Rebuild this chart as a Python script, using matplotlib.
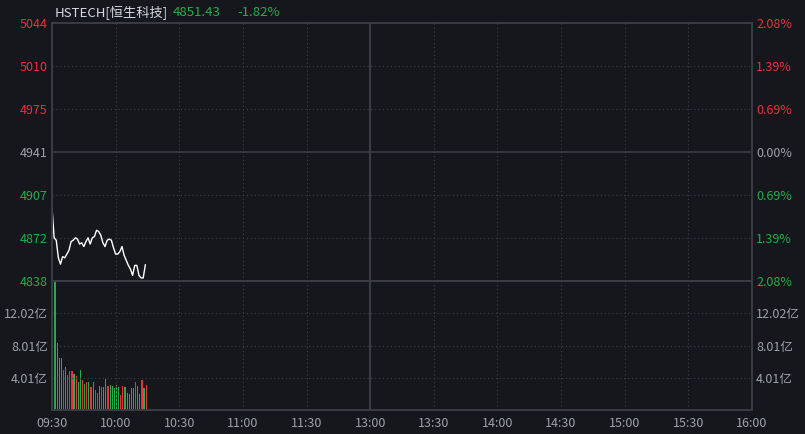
import matplotlib.pyplot as plt
import numpy as np

plt.rcParams['font.family'] = ['Noto Sans CJK SC', 'DejaVu Sans']

# Данные: индекс HSTECH, поминутно с 09:30
prev_close = 4941.35
last_price = 4851.43
change_pct = -1.82
price = [4897, 4873, 4871, 4857, 4852, 4858, 4857, 4860, 4863, 4870,
         4871, 4873, 4872, 4868, 4869, 4866, 4870, 4873, 4868, 4873,
         4874, 4879, 4878, 4875, 4869, 4866, 4871, 4872, 4871, 4865,
         4860, 4860, 4862, 4866, 4859, 4855, 4851, 4848, 4843, 4851,
         4851, 4843, 4841, 4841, 4851.43]

# Объём, 亿
volume = [10.25, 16.0, 8.35, 6.45, 6.45, 4.93, 5.31, 4.30, 4.81, 4.81,
          4.43, 4.17, 3.54, 4.93, 3.67, 3.29, 3.54, 3.42, 2.91, 3.54,
          2.53, 2.15, 3.04, 2.91, 2.91, 3.80, 3.04, 3.16, 3.04, 2.78,
          3.16, 2.91, 1.90, 3.04, 2.91, 2.15, 2.02, 2.78, 2.78, 3.54,
          3.04, 2.02, 3.67, 2.78, 3.16]
# 1 - рост (красный), -1 - падение (зелёный)
vol_dir = [-1, -1, -1, -1, -1, 1, -1, 1, 1, 1,
           -1, 1, -1, -1, 1, -1, 1, -1, 1, -1,
           1, 1, -1, 1, -1, -1, 1, -1, -1, -1,
           -1, -1, 1, 1, -1, -1, -1, -1, -1, 1,
           -1, -1, 1, -1, 1]

pct_ticks = [-2.08, -1.39, -0.69, 0.0, 0.69, 1.39, 2.08]
vol_ticks = [4.01, 8.01, 12.02]
vol_top = 16.03
time_labels = ['09:30', '10:00', '10:30', '11:00', '11:30', '13:00',
               '13:30', '14:00', '14:30', '15:00', '15:30', '16:00']

bg = '#15171c'
frame = '#3a3d43'
grid_c = '#3d4046'
red = '#e8313b'
green = '#1fae4a'
gray = '#9ea2a8'
dots = (0, (1, 2.5))

fig = plt.figure(figsize=(8.05, 4.34), dpi=100, facecolor=bg)
ax = fig.add_axes([52 / 805, 1 - 281 / 434, 700 / 805, 258 / 434], facecolor=bg)
axv = fig.add_axes([52 / 805, 1 - 410 / 434, 700 / 805, 129 / 434], facecolor=bg)

minutes = np.arange(len(price))
xt = np.arange(0, 331, 30)

# Цена
lo = prev_close * (1 + pct_ticks[0] / 100)
hi = prev_close * (1 + pct_ticks[-1] / 100)
ax.set_xlim(0, 330)
ax.set_ylim(lo, hi)
levels = [prev_close * (1 + p / 100) for p in pct_ticks]
for lv, p in zip(levels[1:-1], pct_ticks[1:-1]):
    if p == 0:
        ax.axhline(lv, color=frame, lw=1.2)
    else:
        ax.axhline(lv, color=grid_c, lw=0.8, ls=dots)
for x in xt[1:-1]:
    if x == 150:
        ax.axvline(x, color=frame, lw=1.5)
    else:
        ax.axvline(x, color=grid_c, lw=0.8, ls=dots)
ax.plot(minutes, price, color='white', lw=1)

ax.set_yticks(levels)
ax.set_yticklabels(['%d' % int(v) for v in levels])
ax.set_xticks([])
axr = ax.twinx()
axr.set_ylim(lo, hi)
axr.set_yticks(levels)
axr.set_yticklabels(['%.2f%%' % abs(p) for p in pct_ticks])
for a in (ax, axr):
    for lab, p in zip(a.get_yticklabels(), pct_ticks):
        lab.set_color(red if p > 0 else (green if p < 0 else gray))
    a.tick_params(axis='y', length=0, labelsize=9, pad=3)

# Объём
axv.set_xlim(0, 330)
axv.set_ylim(0, vol_top)
for v in vol_ticks:
    axv.axhline(v, color=grid_c, lw=0.8, ls=dots)
for x in xt[1:-1]:
    if x == 150:
        axv.axvline(x, color=frame, lw=1.5)
    else:
        axv.axvline(x, color=grid_c, lw=0.8, ls=dots)
bar_colors = [red if d > 0 else green for d in vol_dir]
axv.bar(minutes + 0.4, volume, width=0.55, color=bar_colors, linewidth=0)
axv.set_yticks(vol_ticks)
axv.set_yticklabels(['%.2f亿' % v for v in vol_ticks])
axv.set_xticks(xt)
axv.set_xticklabels(time_labels)
axv.tick_params(axis='both', length=0, labelsize=9, colors=gray)
axv.tick_params(axis='y', pad=3)
axv.tick_params(axis='x', pad=5)
axvr = axv.twinx()
axvr.set_ylim(0, vol_top)
axvr.set_yticks(vol_ticks)
axvr.set_yticklabels(['%.2f亿' % v for v in vol_ticks])
axvr.tick_params(axis='y', length=0, labelsize=9, colors=gray, pad=3)

for a in (ax, axr, axv, axvr):
    for s in a.spines.values():
        s.set_color(frame)
        s.set_linewidth(1.2)
ax.spines['bottom'].set_visible(False)

# Заголовок
fig.text(55 / 805, 1 - 12 / 434, 'HSTECH[恒生科技]', color='#d6dae0', fontsize=9.5, va='center')
fig.text(173 / 805, 1 - 12 / 434, '%.2f' % last_price, color=green, fontsize=9.5, va='center')
fig.text(237 / 805, 1 - 12 / 434, '%.2f%%' % change_pct, color=green, fontsize=9.5, va='center')

fig.savefig('out.png', dpi=100, facecolor=bg)
